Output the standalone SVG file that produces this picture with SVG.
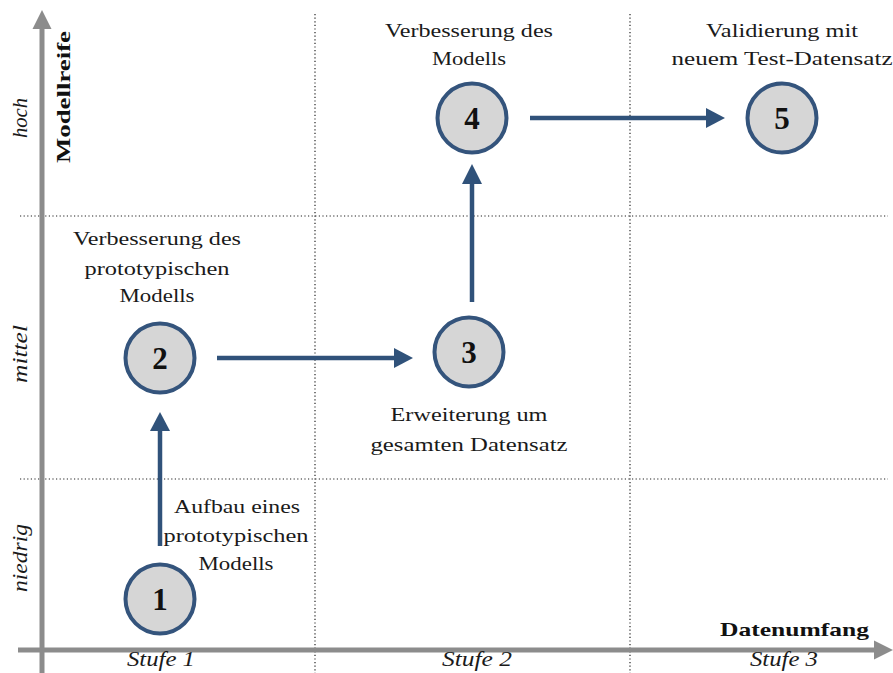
<svg xmlns="http://www.w3.org/2000/svg" width="893" height="673" viewBox="0 0 893 673">
  <style>
    .grid { stroke: #222; stroke-width: 1.2; stroke-dasharray: 1.2 2.4; fill: none; }
    .axis { stroke: #8c8c8c; stroke-width: 5; fill: none; }
    .axhead { fill: #8c8c8c; }
    .node { fill: #d6d6d6; stroke: #34547c; stroke-width: 4; }
    .num { font-family: "Liberation Serif", serif; font-weight: bold; font-size: 31px; fill: #111; text-anchor: middle; }
    .lbl { font-family: "Liberation Serif", serif; font-size: 19px; fill: #1a1a1a; text-anchor: middle; }
    .it { font-family: "Liberation Serif", serif; font-style: italic; font-size: 20px; fill: #1a1a1a; text-anchor: middle; }
    .ax { font-family: "Liberation Serif", serif; font-weight: bold; font-size: 19px; fill: #111; }
    .conn { stroke: #30527a; stroke-width: 4.5; fill: none; }
    .head { fill: #30527a; }
  </style>

  <!-- dotted grid -->
  <g id="grid">
    <line class="grid" x1="20" y1="216" x2="888" y2="216"/>
    <line class="grid" x1="20" y1="479" x2="888" y2="479"/>
    <line class="grid" x1="315" y1="14" x2="315" y2="673"/>
    <line class="grid" x1="630" y1="14" x2="630" y2="673"/>
  </g>

  <!-- axes -->
  <g id="axes">
    <line class="axis" x1="42" y1="673" x2="42" y2="26"/>
    <polygon class="axhead" points="42,10 32.5,29 51.5,29"/>
    <line class="axis" x1="18" y1="650" x2="878" y2="650"/>
    <polygon class="axhead" points="893,650 874,640.5 874,659.5"/>
    <text class="ax" transform="translate(70,97) rotate(-90)" text-anchor="middle" textLength="132" lengthAdjust="spacingAndGlyphs">Modellreife</text>
    <text class="ax" x="869" y="636" text-anchor="end" textLength="149" lengthAdjust="spacingAndGlyphs">Datenumfang</text>
    <text class="it" transform="translate(27,118) rotate(-90)" textLength="40" lengthAdjust="spacingAndGlyphs">hoch</text>
    <text class="it" transform="translate(27,354) rotate(-90)" textLength="58" lengthAdjust="spacingAndGlyphs">mittel</text>
    <text class="it" transform="translate(27,558) rotate(-90)" textLength="68" lengthAdjust="spacingAndGlyphs">niedrig</text>
    <text class="it" x="161" y="666" textLength="68" lengthAdjust="spacingAndGlyphs">Stufe 1</text>
    <text class="it" x="477" y="666" textLength="70" lengthAdjust="spacingAndGlyphs">Stufe 2</text>
    <text class="it" x="784" y="666" textLength="68" lengthAdjust="spacingAndGlyphs">Stufe 3</text>
  </g>

  <!-- connectors -->
  <g id="connectors">
    <line class="conn" x1="160" y1="546" x2="160" y2="428"/>
    <polygon class="head" points="160,412 150,431 170,431"/>
    <line class="conn" x1="217" y1="358" x2="396" y2="358"/>
    <polygon class="head" points="413,358 394,348 394,368"/>
    <line class="conn" x1="472" y1="302" x2="472" y2="181"/>
    <polygon class="head" points="472,164 462,184 482,184"/>
    <line class="conn" x1="530" y1="118" x2="708" y2="118"/>
    <polygon class="head" points="725,118 706,108 706,128"/>
  </g>

  <!-- nodes -->
  <g id="node1">
    <circle class="node" cx="160" cy="599" r="34.5"/>
    <text class="num" x="160" y="610">1</text>
    <text class="lbl" x="237" y="513" textLength="126" lengthAdjust="spacingAndGlyphs">Aufbau eines</text>
    <text class="lbl" x="236" y="542" textLength="145" lengthAdjust="spacingAndGlyphs">prototypischen</text>
    <text class="lbl" x="236" y="570" textLength="75" lengthAdjust="spacingAndGlyphs">Modells</text>
  </g>
  <g id="node2">
    <circle class="node" cx="160" cy="358" r="34.5"/>
    <text class="num" x="160" y="369">2</text>
    <text class="lbl" x="157" y="245" textLength="168" lengthAdjust="spacingAndGlyphs">Verbesserung des</text>
    <text class="lbl" x="157" y="275" textLength="145" lengthAdjust="spacingAndGlyphs">prototypischen</text>
    <text class="lbl" x="157" y="302" textLength="75" lengthAdjust="spacingAndGlyphs">Modells</text>
  </g>
  <g id="node3">
    <circle class="node" cx="469" cy="352" r="34.5"/>
    <text class="num" x="469" y="363">3</text>
    <text class="lbl" x="469" y="421" textLength="157" lengthAdjust="spacingAndGlyphs">Erweiterung um</text>
    <text class="lbl" x="469" y="451" textLength="197" lengthAdjust="spacingAndGlyphs">gesamten Datensatz</text>
  </g>
  <g id="node4">
    <circle class="node" cx="472" cy="118" r="34.5"/>
    <text class="num" x="472" y="129">4</text>
    <text class="lbl" x="469" y="37" textLength="168" lengthAdjust="spacingAndGlyphs">Verbesserung des</text>
    <text class="lbl" x="469" y="65" textLength="74" lengthAdjust="spacingAndGlyphs">Modells</text>
  </g>
  <g id="node5">
    <circle class="node" cx="782" cy="118" r="34.5"/>
    <text class="num" x="782" y="129">5</text>
    <text class="lbl" x="782" y="37" textLength="152" lengthAdjust="spacingAndGlyphs">Validierung mit</text>
    <text class="lbl" x="782" y="65" textLength="221" lengthAdjust="spacingAndGlyphs">neuem Test-Datensatz</text>
  </g>
</svg>
